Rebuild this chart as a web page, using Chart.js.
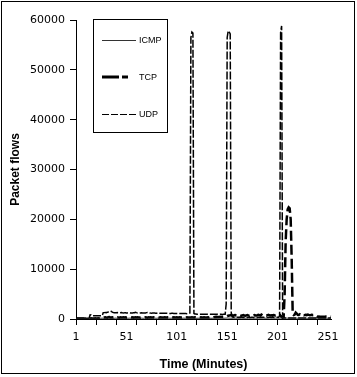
<!DOCTYPE html>
<html>
<head>
<meta charset="utf-8">
<script src="https://cdn.jsdelivr.net/npm/chart.js@4.4.1/dist/chart.umd.min.js"></script>
<style>
  html, body { margin: 0; padding: 0; background: #fff; }
  canvas { display: block; }
</style>
</head>
<body>
<canvas id="c" width="357" height="377"></canvas>
<script>
// Categories: minutes 1..254
const minutes = Array.from({ length: 254 }, (_, i) => String(i + 1));
const xTickLabels = ['1', '51', '101', '151', '201', '251'];
const yTickLabels = ['0', '10000', '20000', '30000', '40000', '50000', '60000'];
const seriesNames = ['ICMP', 'TCP', 'UDP'];

const icmp = [
  30,30,40,30,30,40,30,30,40,30,30,40,30,30,
  150,160,140,150,170,150,140,160,150,140,
  160,150,170,140,150,160,150,140,170,150,
  140,150,160,150,140,170,150,160,140,150,
  150,140,160,170,150,140,150,160,150,170,
  160,150,140,150,170,160,150,140,160,150,
  150,170,150,140,160,150,140,150,170,160,
  140,150,160,150,170,150,140,160,150,140,
  170,150,140,160,150,150,160,140,170,150,
  150,160,150,140,160,170,150,140,150,160,
  160,140,150,170,150,160,150,140,160,150,
  180,200,190,170,160,150,140,160,150,170,
  150,140,160,150,170,150,160,140,150,160,
  140,150,170,160,150,140,160,150,170,150,
  160,150,140,150,170,180,200,190,170,160,
  150,140,160,150,170,150,160,140,150,160,
  170,150,140,160,150,160,150,170,140,150,
  150,160,140,150,170,150,140,160,150,160,
  140,150,170,160,150,140,160,150,170,150,
  160,150,140,150,170,160,150,140,160,180,
  200,220,200,190,180,170,160,150,160,170,
  160,150,140,160,150,170,150,160,140,150,
  150,160,140,150,170,150,140,160,150,160,
  170,150,140,160,150,150,160,140,170,150,
  150,160,150,140,160,170,150,140,150,160
];

const tcp = [
  100,110,120,100,110,120,110,100,120,110,
  110,120,100,110,120,130,120,110,120,130,
  120,110,130,120,110,120,130,
  280,320,350,300,260,340,380,310,290,330,
  300,350,280,320,360,300,270,340,310,290,
  330,300,360,280,310,350,290,320,300,340,
  280,310,330,300,350,290,320,280,340,300,
  310,290,350,320,280,330,300,360,290,310,
  340,300,280,320,350,290,310,330,300,280,
  320,360,300,290,330,310,280,340,300,320,
  350,290,310,330,280,300,360,320,290,310,
  330,300,280,350,310,290,320,300,340,290,
  310,350,300,280,330,310,290,340,300,320,
  360,300,280,310,330,290,350,300,320,310,
  380,420,450,400,380,420,460,400,430,410,
  420,450,
  500,600,650,700,750,820,700,650,760,800,
  700,680,750,820,700,650,720,780,700,660,
  740,800,720,680,760,700,650,730,800,720,
  690,760,850,780,700,900,760,720,800,740,
  700,780,820,740,700,760,680,800,750,720,
  780,820,760,900,700,400,250,300,
  5000,15500,20000,22000,22400,22200,20000,12000,1000,800,
  900,1300,1100,850,800,950,780,820,900,760,
  800,850,780,900,820,760,800,850,780,800,
  760,720,
  480,450,500,460,440,470,450,430,460,480,
  450,440,460,450,430
];

const udp = [
  150,150,160,150,150,140,150,150,160,150,150,150,140,150,
  850,820,
  650,660,650,640,650,660,650,650,640,650,660,
  1250,1280,1300,1260,1350,1420,1500,1450,1550,1380,
  1300,1260,1250,1240,1280,1260,1230,1250,1300,1240,
  1220,1230,1250,1210,1220,1240,1260,1220,1200,1210,
  1230,1250,1350,1280,1220,1200,1190,1210,1230,1200,
  1180,1190,1210,1280,1320,1250,1200,1180,1170,1190,
  1200,1180,1160,1170,1250,1180,1160,1150,1140,1160,
  1150,1130,1140,1160,1150,1130,1120,1110,1130,1140,
  1120,1110,1100,1120,1110,1100,1090,1100,1110,1090,
  1080,1090,1080,1070,1090,1100,
  1200,
  56500,57600,57400,1100,
  1000,980,960,970,950,960,950,940,960,950,
  940,950,960,950,940,930,950,940,950,940,
  930,940,950,930,920,940,930,920,930,940,
  950,
  3000,56500,57800,57600,57200,1300,
  400,350,330,340,320,350,330,340,320,330,
  340,330,320,350,330,320,340,330,320,330,
  330,320,340,330,350,320,330,340,320,330,
  340,330,320,330,340,320,330,350,330,320,
  330,340,320,330,340,330,350,
  600,57500,58800,1000,
  300,250,220,200,200,210,200,190,200,210,
  200,210,220,200,190,200,210,200,190,200,
  210,200,190,200,210,200,190,200,210,200,
  190,200,210,200,190,200,210,200,190,200,
  210,200,190,200,210,200,190,200
];

const FONT = '"Liberation Sans", Arial, sans-serif';
const TICKFONT = '"DejaVu Sans", sans-serif';

const framePlugin = {
  id: 'frame',
  beforeDraw(chart) {
    const c = chart.ctx;
    c.save();
    c.fillStyle = '#fff';
    c.fillRect(0, 0, chart.width, chart.height);
    c.restore();
  },
  afterDraw(chart) {
    const c = chart.ctx;
    c.save();
    c.strokeStyle = '#000';
    c.lineWidth = 1;
    c.strokeRect(1.5, 1.5, 353, 372);
    c.restore();
  }
};

const legendBoxPlugin = {
  id: 'legendBox',
  afterDraw(chart) {
    const c = chart.ctx;
    c.save();
    c.fillStyle = '#fff';
    c.fillRect(93.5, 19.5, 74, 113);
    c.strokeStyle = '#000';
    c.lineWidth = 1;
    c.strokeRect(93.5, 19.5, 74, 113);
    const rows = [
      { y: 40.5, w: 1, dash: [], color: '#333' },
      { y: 77, w: 3, dash: [17, 3, 6, 8, 2, 20], color: '#000' },
      { y: 114.5, w: 1, dash: [7, 2], color: '#000' }
    ];
    rows.forEach((r, i) => {
      c.beginPath();
      c.setLineDash(r.dash);
      c.lineWidth = r.w;
      c.strokeStyle = r.color;
      c.moveTo(102, r.y);
      c.lineTo(136, r.y);
      c.stroke();
      c.setLineDash([]);
      c.fillStyle = '#000';
      c.font = '9px ' + FONT;
      c.textBaseline = 'middle';
      c.textAlign = 'left';
      c.fillText(seriesNames[i], 139, r.y + 0.5);
    });
    c.restore();
  }
};

new Chart(document.getElementById('c'), {
  type: 'line',
  data: {
    labels: minutes,
    datasets: [
      { label: seriesNames[0], data: icmp, borderColor: '#222', borderWidth: 1, borderDash: [] },
      { label: seriesNames[1], data: tcp, borderColor: '#000', borderWidth: 2.5, borderDash: [10, 4] },
      { label: seriesNames[2], data: udp, borderColor: '#000', borderWidth: 1.5, borderDash: [8, 2] }
    ]
  },
  options: {
    responsive: false,
    animation: false,
    layout: { padding: { top: 20, right: 26, left: 0, bottom: 0 } },
    elements: { point: { radius: 0 }, line: { tension: 0, fill: false } },
    plugins: { legend: { display: false }, tooltip: { enabled: false } },
    scales: {
      x: {
        type: 'category',
        offset: false,
        grid: {
          drawOnChartArea: false,
          tickLength: 6,
          tickColor: (ctx) => (ctx.index % 20 === 0 ? '#000' : 'rgba(0,0,0,0)'),
          color: (ctx) => (ctx.index % 20 === 0 ? '#000' : 'rgba(0,0,0,0)')
        },
        border: { color: '#000', width: 1 },
        ticks: {
          autoSkip: false,
          maxRotation: 0,
          minRotation: 0,
          color: '#000',
          padding: 6,
          font: { family: TICKFONT, size: 11 },
          callback: (v, i) => (xTickLabels.includes(minutes[i]) ? minutes[i] : '')
        },
        title: {
          display: true,
          text: 'Time (Minutes)',
          color: '#000',
          font: { family: FONT, size: 12.5, weight: 'bold' },
          padding: { top: 0, bottom: 5 }
        },
        afterFit: (s) => { s.height = 58; }
      },
      y: {
        min: 0,
        max: 60000,
        grid: { drawOnChartArea: false, tickLength: 6, tickColor: '#000', color: '#000' },
        border: { color: '#000', width: 1 },
        ticks: {
          stepSize: 10000,
          color: '#000',
          padding: 5,
          font: { family: TICKFONT, size: 11 },
          callback: (v) => yTickLabels[Math.round(v / 10000)]
        },
        title: {
          display: true,
          text: 'Packet flows',
          color: '#000',
          font: { family: FONT, size: 12, weight: 'bold' },
          padding: { top: 8, bottom: 0 }
        },
        afterFit: (s) => { s.width = 76; }
      }
    }
  },
  plugins: [framePlugin, legendBoxPlugin]
});
</script>
</body>
</html>
